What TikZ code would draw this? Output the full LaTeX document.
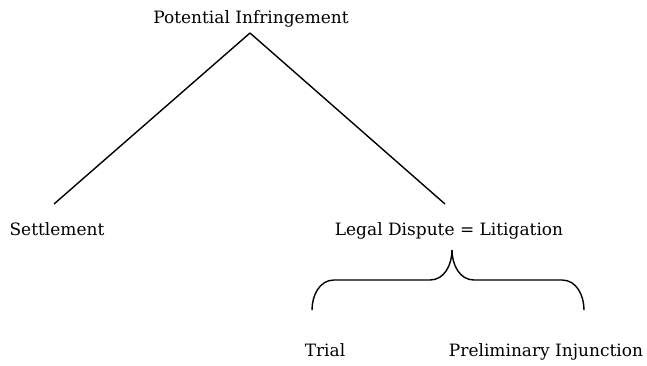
\documentclass[tikz,border=0pt]{standalone}
\usepackage{fontspec}
\setmainfont{DejaVu Serif}
\begin{document}
\begin{tikzpicture}[x=1pt,y=-1pt,line width=1.4pt,
  voce/.style={inner sep=0pt,anchor=base,font=\fontsize{17}{20}\selectfont}]
\useasboundingbox (0,0) rectangle (647,365);
\node[voce] (infrazione) at (251,23) {Potential Infringement};
\node[voce] (accordo) at (57,235) {Settlement};
\node[voce] (causa) at (449,235) {Legal Dispute = Litigation};
\node[voce] (processo) at (325,356) {Trial};
\node[voce] (ingiunzione) at (546,356) {Preliminary Injunction};
\coordinate (vertice) at ([shift={(-1,10)}]infrazione.base);
\coordinate (punta) at ([shift={(3,15)}]causa.base);
\draw (vertice) -- ([shift={(-3,-31)}]accordo.base);
\draw (vertice) -- ([shift={(-4,-31)}]causa.base);
\draw (punta) to[out=-90,in=0] ++(-22,30) -- ++(-96,0) to[out=180,in=90] ++(-22,30);
\draw (punta) to[out=-90,in=180] ++(22,30) -- ++(88,0) to[out=0,in=90] ++(22,30);
\end{tikzpicture}
\end{document}
